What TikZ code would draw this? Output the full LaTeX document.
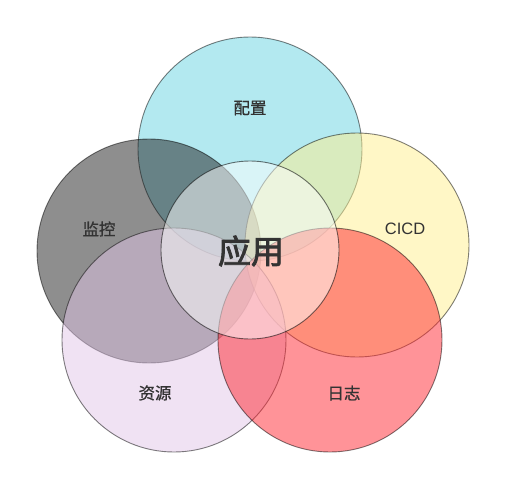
\documentclass[tikz,border=0pt]{standalone}
\usepackage{fontspec}
\setmainfont{Noto Sans CJK SC}
\newfontfamily\cjklbl[FakeBold=0.8]{Noto Sans CJK SC}
\newfontfamily\cjkbig[FakeBold=2.4]{Noto Sans CJK SC}
\newfontfamily\latinsans{Liberation Sans}
\definecolor{cCyan}{RGB}{103,211,225}
\definecolor{cGray}{RGB}{29,29,29}
\definecolor{cYellow}{RGB}{255,239,141}
\definecolor{cLav}{RGB}{225,197,231}
\definecolor{cRed}{RGB}{255,39,49}
\definecolor{txt}{RGB}{51,51,51}
\begin{document}
\begin{tikzpicture}[x=1pt,y=-1pt,
  ring/.style={circle, inner sep=0pt, minimum size=224pt, fill opacity=0.5, draw=black, draw opacity=0.5, line width=0.9pt},
  core/.style={circle, inner sep=0pt, minimum size=178pt, fill=white, fill opacity=0.5, draw=black, draw opacity=0.55, line width=0.9pt},
  lbl/.style={text=txt, font=\cjklbl\fontsize{16.5}{18}\selectfont, inner sep=0pt}]
\useasboundingbox (0,0) rectangle (506,490);
\node[ring, fill=cCyan] (top) at (250,149) {};
\node[ring, fill=cGray] (left) at (149,251) {};
\node[ring, fill=cYellow] (right) at (357,245) {};
\node[ring, fill=cLav] (bl) at (174,340) {};
\node[ring, fill=cRed] (br) at (330,340) {};
\node[core] (center) at (250,250) {};
\node[lbl] (t1) at (250,108) {配置};
\node[lbl] (t2) at (99,229) {监控};
\node[lbl, font=\latinsans\fontsize{16.5}{18}\selectfont] (t3) at (405,229) {CICD};
\node[lbl] (t4) at (155,393) {资源};
\node[lbl] (t5) at (344,393) {日志};
\node[lbl, font=\cjkbig\fontsize{33}{36}\selectfont] (t6) at (251,251) {应用};
\end{tikzpicture}
\end{document}
